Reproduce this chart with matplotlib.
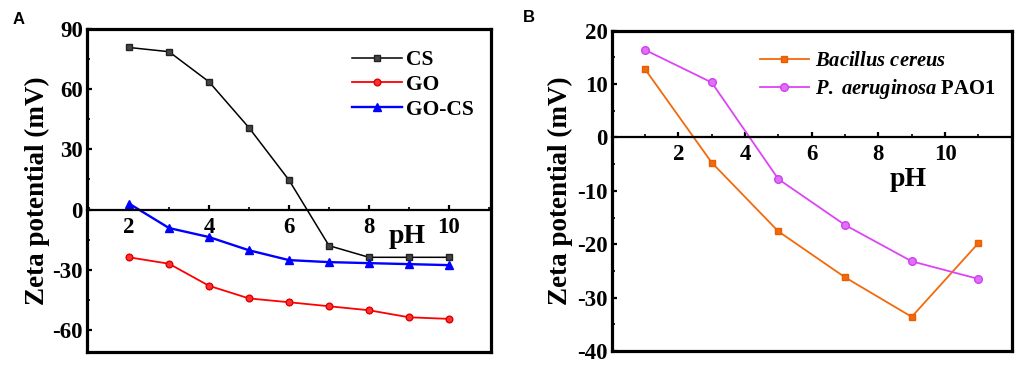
import matplotlib
matplotlib.use("Agg")
import matplotlib.pyplot as plt
from matplotlib.ticker import MultipleLocator

# ---- Data panel A ----
ph_a = [2, 3, 4, 5, 6, 7, 8, 9, 10]
cs = [80.8, 78.7, 63.7, 40.8, 14.7, -18.0, -23.8, -23.8, -23.8]
go = [-23.8, -27.0, -38.0, -44.3, -46.2, -48.2, -50.2, -53.7, -54.5]
go_cs = [3.0, -9.2, -13.7, -20.3, -25.2, -26.2, -26.7, -27.2, -27.7]
xticks_a = [2, 4, 6, 8, 10]
yticks_a = [-60, -30, 0, 30, 60, 90]

# ---- Data panel B ----
ph_b = [1, 3, 5, 7, 9, 11]
bacillus = [12.8, -4.7, -17.6, -26.2, -33.6, -19.8]
pao1 = [16.4, 10.3, -7.8, -16.4, -23.2, -26.5]
xticks_b = [2, 4, 6, 8, 10]
yticks_b = [-40, -30, -20, -10, 0, 10, 20]

SERIF = ["Liberation Serif", "DejaVu Serif"]
plt.rcParams["font.family"] = SERIF
plt.rcParams["axes.unicode_minus"] = False
plt.rcParams["mathtext.fontset"] = "custom"
plt.rcParams["mathtext.it"] = "Liberation Serif:italic:bold"
plt.rcParams["mathtext.rm"] = "Liberation Serif:bold"
plt.rcParams["mathtext.bf"] = "Liberation Serif:bold"

fig = plt.figure(figsize=(10.21, 3.67), dpi=100)
axA = fig.add_axes([0.0852, 0.0409, 0.3957, 0.880])
axB = fig.add_axes([0.5991, 0.0436, 0.3918, 0.8728])


def style(ax, xlim, ylim, xticks, yticks, xminor, yminor, ylab_pad):
    ax.set_xlim(*xlim)
    ax.set_ylim(*ylim)
    ax.spines["bottom"].set_position(("data", 0))
    for s in ["left", "right", "top"]:
        ax.spines[s].set_linewidth(2.3)
    ax.spines["bottom"].set_linewidth(1.6)
    # bottom frame line
    ax.plot([0, 1], [0, 0], transform=ax.transAxes, color="black", lw=2.3,
            clip_on=False, solid_capstyle="projecting", zorder=5)
    ax.set_xticks(xticks)
    ax.set_yticks(yticks)
    ax.xaxis.set_minor_locator(MultipleLocator(xminor))
    ax.yaxis.set_minor_locator(MultipleLocator(yminor))
    ax.tick_params(axis="both", which="major", direction="in", length=3.5, width=1.6,
                   labelsize=16.5)
    ax.tick_params(axis="x", which="major", pad=5)
    ax.tick_params(axis="y", which="major", pad=3)
    ax.tick_params(axis="both", which="minor", direction="in", length=2, width=1.2)
    ax.tick_params(axis="x", which="both", top=False)
    ax.tick_params(axis="y", which="both", right=False)
    for lab in ax.get_xticklabels() + ax.get_yticklabels():
        lab.set_fontweight("bold")
    ax.set_ylabel("Zeta potential (mV)", fontsize=19.5, fontweight="bold", labelpad=ylab_pad)


# Panel A
axA.plot(ph_a, cs, color="black", lw=1.1, marker="s", ms=4.5, mfc="#444444", mec="#222222", label="CS")
axA.plot(ph_a, go, color="#FF0000", lw=1.3, marker="o", ms=4.8, mfc="#FF3030", mec="#DD0000", label="GO")
axA.plot(ph_a, go_cs, color="#0000FF", lw=1.7, marker="^", ms=5.5, mfc="#0000FF", mec="#0000FF", label="GO-CS")
style(axA, (0.95, 11.05), (-71, 90), xticks_a, yticks_a, 1, 15, 2)
axA.text(8.5, -13.5, "pH", fontsize=20, fontweight="bold", va="center", ha="left")
legA = axA.legend(loc="upper right", bbox_to_anchor=(0.99, 0.975), frameon=False, fontsize=15.5,
                  handlelength=2.3, handletextpad=0.2, labelspacing=0.22, borderaxespad=0.2)
for t in legA.get_texts():
    t.set_fontweight("bold")

# Panel B
axB.plot(ph_b, bacillus, color="#F26A0C", lw=1.3, marker="s", ms=5, mfc="#F26A0C", mec="#E85E00",
         label=r"$\mathit{Bacillus\ cereus}$")
axB.plot(ph_b, pao1, color="#DD44F5", lw=1.3, marker="o", ms=5.5, mfc="#E070F8", mec="#D040F0",
         label=r"$\mathit{P.\ aeruginosa}$ PAO1")
style(axB, (0, 12), (-40, 20), xticks_b, yticks_b, 1, 5, 3)
axB.text(8.35, -7.9, "pH", fontsize=20, fontweight="bold", va="center", ha="left")
legB = axB.legend(loc="upper right", bbox_to_anchor=(0.99, 0.975), frameon=False, fontsize=14.8,
                  handlelength=2.4, handletextpad=0.3, labelspacing=0.3, borderaxespad=0.2)
for t in legB.get_texts():
    t.set_fontweight("bold")

fig.text(19 / 1021, 1 - 20 / 367, "A", fontsize=12, fontweight="bold",
         family=["Liberation Sans", "DejaVu Sans"], ha="center", va="center")
fig.text(529 / 1021, 1 - 18 / 367, "B", fontsize=12, fontweight="bold",
         family=["Liberation Sans", "DejaVu Sans"], ha="center", va="center")

fig.savefig("out.png", dpi=100)
